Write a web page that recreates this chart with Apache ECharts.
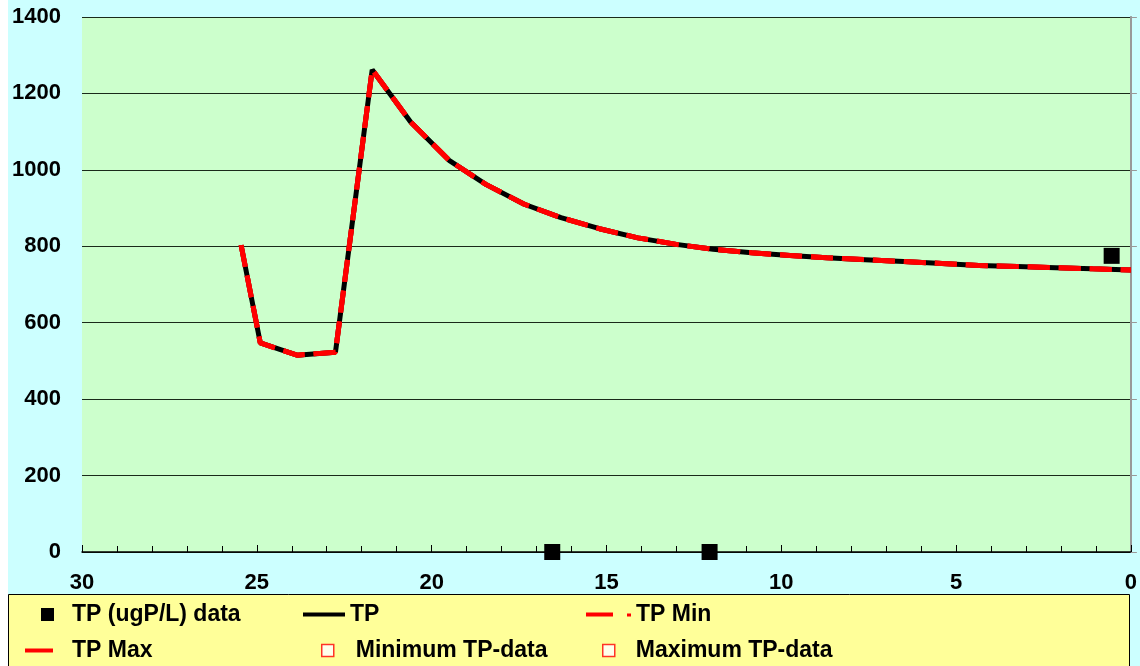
<!DOCTYPE html>
<html>
<head>
<meta charset="utf-8">
<script src="https://cdn.jsdelivr.net/npm/echarts@6/dist/echarts.min.js"></script>
<style>
html,body{margin:0;padding:0;background:#CCFFFF;}
#c{width:1140px;height:666px;}
</style>
</head>
<body>
<div id="c"></div>
<script>
// x values (reversed axis, 30 -> 0)
const tpX = [25.45, 24.9, 23.85, 22.75, 21.7, 20.6, 19.5, 18.45, 17.35, 16.3, 15.2, 14.1, 13.0, 11.95, 10.85, 9.75, 8.7, 7.6, 6.5, 5.4, 4.35, 3.25, 2.15, 1.1, 0];
const tpY = [803, 547, 515, 523, 1262, 1125, 1025, 962, 910, 875, 846, 822, 805, 792, 783, 776, 770, 765, 760, 755, 750, 747, 744, 741, 738];
const tpMinY = [803, 547, 515, 523, 1262, 1125, 1025, 962, 910, 875, 846, 822, 805, 792, 783, 776, 770, 765, 760, 755, 750, 747, 744, 741, 738];
const tpMaxY = [803, 547, 515, 523, 1262, 1125, 1025, 962, 910, 875, 846, 822, 805, 792, 783, 776, 770, 765, 760, 755, 750, 747, 744, 741, 738];
const dataX = [16.55, 12.05, 0.55];
const dataY = [0, 0, 775];
const minDataX = [];
const minDataY = [];
const maxDataX = [];
const maxDataY = [];
const names = ['TP (ugP/L) data', 'TP', 'TP Min', 'TP Max', 'Minimum TP-data', 'Maximum TP-data'];

const zip = (xs, ys) => xs.map((x, i) => [x, ys[i]]);
const axisFont = {fontFamily: 'Arial, "Liberation Sans", sans-serif', fontWeight: 'bold', fontSize: 22, color: '#000'};
const legFont = {fontFamily: 'Arial, "Liberation Sans", sans-serif', fontWeight: 'bold', fontSize: 23, color: '#000'};

function leg(name, left, top, icon, w, h, itemStyle, pad) {
  return {
    data: [{name: name, icon: icon, itemStyle: itemStyle}],
    left: left, top: top, itemWidth: w, itemHeight: h,
    selectedMode: false, padding: 0,
    textStyle: Object.assign({}, legFont, {padding: [0, 0, 0, pad]})
  };
}

const chart = echarts.init(document.getElementById('c'));
chart.setOption({
  backgroundColor: '#CCFFFF',
  animation: false,
  graphic: [
    {type: 'rect', shape: {x: 0, y: 0, width: 8, height: 666}, style: {fill: '#FFFFFF'}, z: -1},
    {type: 'rect', shape: {x: 8.5, y: 594.5, width: 1121, height: 80}, style: {fill: '#FFFF99', stroke: '#000', lineWidth: 1}, z: -1}
  ],
  grid: {left: 82, right: 8, top: 17, bottom: 114, show: true, backgroundColor: '#CCFFCC', borderWidth: 0},
  xAxis: {
    type: 'value', inverse: true, min: 0, max: 30, interval: 5,
    axisLine: {lineStyle: {color: '#000', width: 1.5}},
    axisTick: {inside: true, length: 7, lineStyle: {color: '#000'}},
    minorTick: {show: true, splitNumber: 5, length: 6, lineStyle: {color: '#000'}},
    splitLine: {show: false},
    axisLabel: Object.assign({}, axisFont, {margin: 20})
  },
  yAxis: [{
    type: 'value', min: 0, max: 1400, interval: 200,
    axisLine: {show: true, lineStyle: {color: '#808080', width: 1.5}},
    axisTick: {show: false},
    splitLine: {lineStyle: {color: '#1a2a1a', width: 1.2}},
    axisLabel: Object.assign({}, axisFont, {margin: 21, formatter: v => String(v)})
  }, {
    type: 'value', min: 0, max: 1400, interval: 200, position: 'right',
    axisLine: {show: true, lineStyle: {color: '#999', width: 2}},
    axisTick: {show: true, length: 6, lineStyle: {color: '#999'}},
    splitLine: {show: false},
    axisLabel: {show: false}
  }],
  legend: [
    leg(names[0], 41, 603, 'rect', 13, 13, {color: '#000'}, 13),
    leg(names[1], 303, 603, 'rect', 42, 4, {color: '#000'}, 0),
    leg(names[2], 586, 603, 'path://M0,0 H27 V4 H0 Z M41,1 H45 V4 H41 Z', 45, 4, {color: '#FF0000'}, 0),
    leg(names[3], 25, 639, 'rect', 28, 4, {color: '#FF0000'}, 14),
    leg(names[4], 321, 639, 'rect', 12, 12, {color: '#FFFFFF', borderColor: '#FF0000', borderWidth: 1.5}, 17),
    leg(names[5], 602, 639, 'rect', 12, 12, {color: '#FFFFFF', borderColor: '#FF0000', borderWidth: 1.5}, 16)
  ],
  series: [
    {name: names[1], type: 'line', data: zip(tpX, tpY), showSymbol: false, symbol: 'none',
     lineStyle: {color: '#000', width: 5}, itemStyle: {color: '#000'}, z: 2},
    {name: names[2], type: 'line', data: zip(tpX, tpMinY), showSymbol: false, symbol: 'none',
     lineStyle: {color: '#FF0000', width: 5, type: [22, 9]}, itemStyle: {color: '#FF0000'}, z: 3},
    {name: names[3], type: 'line', data: zip(tpX, tpMaxY), showSymbol: false, symbol: 'none',
     lineStyle: {color: '#FF0000', width: 5, type: [22, 9]}, itemStyle: {color: '#FF0000'}, z: 4},
    {name: names[0], type: 'scatter', data: zip(dataX, dataY), symbol: 'rect', symbolSize: 16,
     itemStyle: {color: '#000', opacity: 1}, z: 5, clip: false},
    {name: names[4], type: 'scatter', data: zip(minDataX, minDataY), symbol: 'rect', symbolSize: 12,
     itemStyle: {color: '#FFFFFF', borderColor: '#FF0000', borderWidth: 1.5}},
    {name: names[5], type: 'scatter', data: zip(maxDataX, maxDataY), symbol: 'rect', symbolSize: 12,
     itemStyle: {color: '#FFFFFF', borderColor: '#FF0000', borderWidth: 1.5}}
  ]
});
</script>
</body>
</html>
